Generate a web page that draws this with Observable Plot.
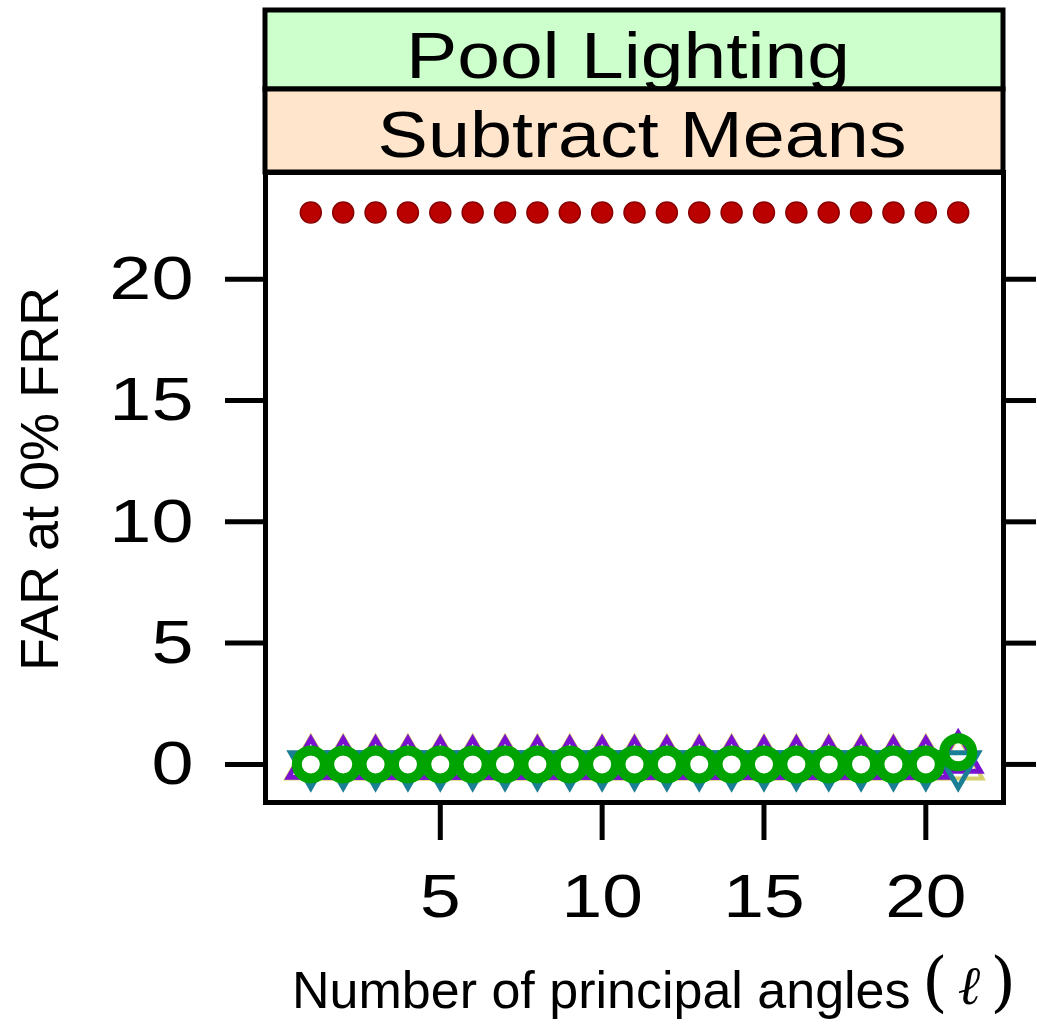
<!DOCTYPE html>
<html>
<head>
<meta charset="utf-8">
<script src="https://cdn.jsdelivr.net/npm/d3@7"></script>
<script src="https://cdn.jsdelivr.net/npm/@observablehq/plot@0.6"></script>
<style>
  html, body { margin: 0; padding: 0; background: #ffffff; }
  #chart svg { display: block; }
</style>
</head>
<body>
<div id="chart"></div>
<script>
// ---- data ----
const ell = [1, 2, 3, 4, 5, 6, 7, 8, 9, 10, 11, 12, 13, 14, 15, 16, 17, 18, 19, 20, 21];
const seriesRed    = [22.75, 22.75, 22.75, 22.75, 22.75, 22.75, 22.75, 22.75, 22.75, 22.75, 22.75, 22.75, 22.75, 22.75, 22.75, 22.75, 22.75, 22.75, 22.75, 22.75, 22.75];
const seriesYellow = [0, 0, 0, 0, 0, 0, 0, 0, 0, 0, 0, 0, 0, 0, 0, 0, 0, 0, 0, 0, 0];
const seriesPurple = [0, 0, 0, 0, 0, 0, 0, 0, 0, 0, 0, 0, 0, 0, 0, 0, 0, 0, 0, 0, 0.25];
const seriesTeal   = [0, 0, 0, 0, 0, 0, 0, 0, 0, 0, 0, 0, 0, 0, 0, 0, 0, 0, 0, 0, 0];
const seriesGreen  = [0, 0, 0, 0, 0, 0, 0, 0, 0, 0, 0, 0, 0, 0, 0, 0, 0, 0, 0, 0, 0.5];
const yTicks = [0, 5, 10, 15, 20];
const xTicks = [5, 10, 15, 20];
const stripTop = "Pool Lighting";
const stripBottom = "Subtract Means";
const yTitle = "FAR at 0% FRR";
const xTitle = "Number of principal angles";

const rows = vals => ell.map((x, i) => ({x, y: vals[i]}));

const triangleDown = {
  draw(ctx, size) {
    const y = Math.sqrt(size / (Math.sqrt(3) * 3));
    ctx.moveTo(0, 2 * y);
    ctx.lineTo(-Math.sqrt(3) * y, -y);
    ctx.lineTo(Math.sqrt(3) * y, -y);
    ctx.closePath();
  }
};

const W = 1037, H = 1025;
const mL = 265, mR = 34, mT = 172, mB = 223;

const chart = Plot.plot({
  width: W,
  height: H,
  marginLeft: mL,
  marginRight: mR,
  marginTop: mT,
  marginBottom: mB,
  style: {fontFamily: "'Liberation Sans', Arial, sans-serif", background: "#ffffff", color: "#000", overflow: "visible"},
  x: {domain: [-0.4, 22.4]},
  y: {domain: [-1.57, 24.4]},
  marks: [
    Plot.axisY({ticks: yTicks, tickSize: 40, tickPadding: 32, fontSize: 62, strokeWidth: 5, label: null, stroke: "#000", fill: "#000"}),
    Plot.axisY({anchor: "right", ticks: yTicks, tickSize: 32, tickFormat: () => "", strokeWidth: 5, label: null, stroke: "#000"}),
    Plot.axisX({ticks: xTicks, tickSize: 38, tickPadding: 32, fontSize: 62, strokeWidth: 5, label: null, stroke: "#000", fill: "#000"}),
    Plot.dot(rows(seriesRed), {x: "x", y: "y", r: 10.5, fill: "#bb0000", stroke: "#8a0000", strokeWidth: 1.5}),
    Plot.dot(rows(seriesYellow), {x: "x", y: "y", symbol: "triangle", r: 18, fill: "none", stroke: "#d6cf6a", strokeWidth: 4}),
    Plot.dot(rows(seriesPurple), {x: "x", y: "y", symbol: "triangle", r: 16.5, fill: "none", stroke: "#7a10d0", strokeWidth: 5}),
    Plot.dot(rows(seriesTeal), {x: "x", y: "y", symbol: triangleDown, r: 15, fill: "none", stroke: "#1a7f95", strokeWidth: 5}),
    Plot.dot(rows(seriesGreen), {x: "x", y: "y", r: 14, fill: "none", stroke: "#00a400", strokeWidth: 10}),
    Plot.frame({stroke: "#000", strokeWidth: 5})
  ]
});

document.getElementById("chart").appendChild(chart);

const svg = d3.select(chart);
const font = "'Liberation Sans', Arial, sans-serif";

// strips (lattice-style panel headers)
const strips = svg.append("g");
strips.append("rect").attr("x", mL).attr("y", 10).attr("width", W - mL - mR).attr("height", 79)
  .attr("fill", "#ccffcc").attr("stroke", "#000").attr("stroke-width", 5);
strips.append("rect").attr("x", mL).attr("y", 89).attr("width", W - mL - mR).attr("height", mT - 89)
  .attr("fill", "#ffe5cc").attr("stroke", "#000").attr("stroke-width", 5);
const s1 = strips.append("text").attr("x", 628).attr("y", 78).attr("text-anchor", "middle")
  .attr("font-family", font).attr("font-size", 64).attr("fill", "#000").text(stripTop);
const s2 = strips.append("text").attr("x", 642).attr("y", 157).attr("text-anchor", "middle")
  .attr("font-family", font).attr("font-size", 64).attr("fill", "#000").text(stripBottom);

// axis titles
svg.append("text").attr("transform", `translate(58, ${(mT + H - mB) / 2 - 8}) rotate(-90)`)
  .attr("text-anchor", "middle").attr("font-family", font).attr("font-size", 54).attr("fill", "#000").text(yTitle);
svg.append("text").attr("x", 292).attr("y", 1008).attr("text-anchor", "start").attr("font-family", font).attr("font-size", 52)
  .attr("fill", "#000").text(xTitle);
const ellT = svg.append("text").attr("x", 922).attr("y", 1004).attr("text-anchor", "start")
  .attr("font-family", "'DejaVu Serif', serif").attr("fill", "#000");
ellT.append("tspan").attr("font-size", 66).attr("font-weight", 300).text("(");
ellT.append("tspan").attr("font-size", 54).attr("font-style", "italic").attr("dx", 10).text("\u2113");
ellT.append("tspan").attr("font-size", 66).attr("font-weight", 300).attr("dx", 10).text(")");

// horizontal stretch like the reference's glyphs
function stretch(sel, k) {
  sel.each(function() {
    const len = this.getComputedTextLength();
    if (len > 0) {
      this.setAttribute("textLength", len * k);
      this.setAttribute("lengthAdjust", "spacingAndGlyphs");
    }
  });
}
stretch(s1, 1.2);
stretch(s2, 1.18);
stretch(svg.selectAll("g[aria-label='y-axis tick label'] text"), 1.22);
stretch(svg.selectAll("g[aria-label='x-axis tick label'] text"), 1.18);
</script>
</body>
</html>
